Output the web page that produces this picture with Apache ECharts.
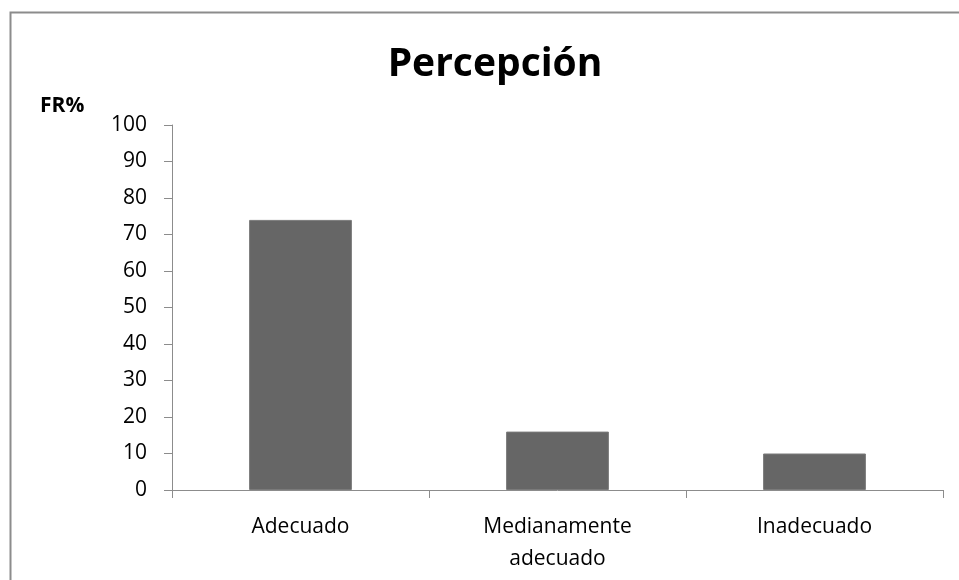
<!DOCTYPE html>
<html>
<head>
<meta charset="utf-8">
<script src="https://cdn.jsdelivr.net/npm/echarts@6/dist/echarts.min.js"></script>
<style>
  html, body { margin: 0; padding: 0; background: #ffffff; }
  #chart { width: 959px; height: 580px; }
</style>
</head>
<body>
<div id="chart"></div>
<script>
// Percepción: relative frequency (%) per rating
const categories = ['Adecuado', 'Medianamente\nadecuado', 'Inadecuado'];
const frValues = [74, 16, 10];
const yTicks = { min: 0, max: 100, interval: 10 };

const chart = echarts.init(document.getElementById('chart'), null, { renderer: 'canvas' });
const font = '"Open Sans", "Noto Sans", sans-serif';

chart.setOption({
  backgroundColor: '#ffffff',
  animation: false,
  graphic: [
    {
      type: 'rect',
      shape: { x: 10.5, y: 12.5, width: 1000, height: 1000 },
      style: { fill: 'none', stroke: '#8c8c8c', lineWidth: 2 },
      silent: true
    }
  ],
  title: {
    text: 'Percepción',
    left: 490,
    top: 40,
    textAlign: 'center',
    textStyle: { fontFamily: font, fontSize: 39, fontWeight: 'bold', color: '#000000' }
  },
  grid: { left: 172, right: 16, top: 125, bottom: 90, containLabel: false },
  xAxis: {
    type: 'category',
    data: categories,
    axisLine: { lineStyle: { color: '#8c8c8c', width: 1 } },
    axisTick: { show: true, length: 8, lineStyle: { color: '#8c8c8c' } },
    axisLabel: {
      margin: 21,
      fontFamily: font,
      fontSize: 21,
      color: '#000000',
      lineHeight: 32
    },
    splitLine: { show: false }
  },
  yAxis: {
    type: 'value',
    min: yTicks.min,
    max: yTicks.max,
    interval: yTicks.interval,
    name: 'FR%',
    nameLocation: 'end',
    nameGap: 0,
    nameTextStyle: {
      fontFamily: font, fontSize: 21, fontWeight: 'bold', color: '#000000',
      align: 'left', verticalAlign: 'bottom', padding: [0, 0, 8, -132]
    },
    axisLine: { show: true, lineStyle: { color: '#8c8c8c', width: 1 } },
    axisTick: { show: true, length: 8, lineStyle: { color: '#8c8c8c' } },
    axisLabel: { margin: 25, fontFamily: font, fontSize: 21, color: '#000000' },
    splitLine: { show: false }
  },
  series: [
    {
      type: 'bar',
      data: frValues,
      barCategoryGap: '60%',
      itemStyle: { color: '#666666', borderColor: '#7a7a7a', borderWidth: 1 }
    }
  ]
});
</script>
</body>
</html>
